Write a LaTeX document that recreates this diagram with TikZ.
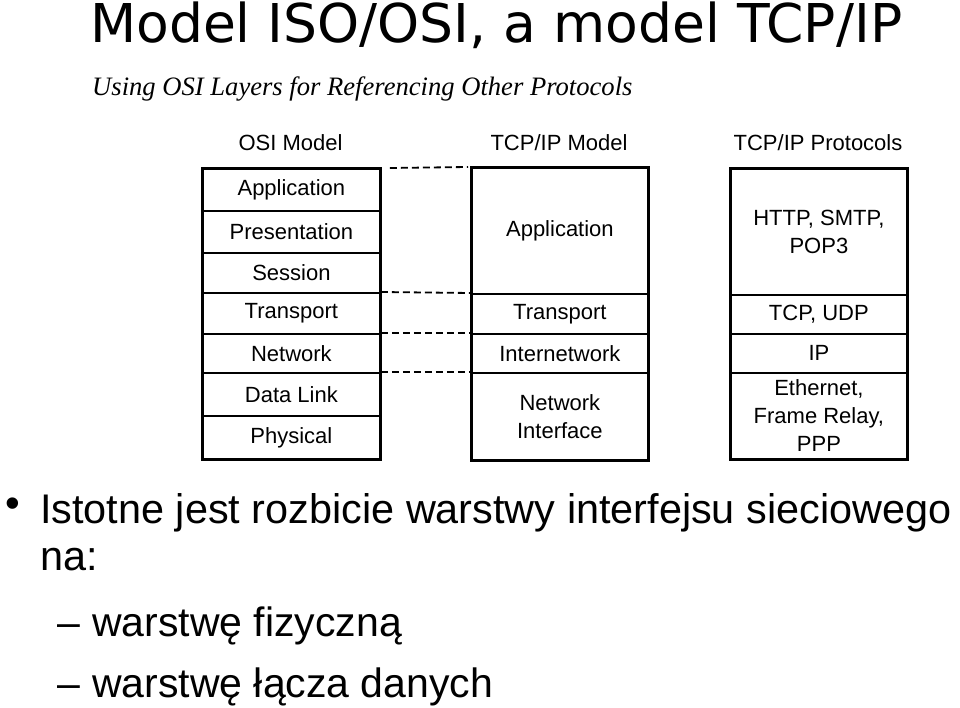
\documentclass[tikz,border=0pt]{standalone}
\usepackage{fontspec}
\setmainfont{Liberation Sans}
\newfontfamily\titlefont{DejaVu Sans}
\newfontfamily\subfont{Liberation Serif}
\begin{document}
\begin{tikzpicture}[x=1pt,y=-1pt,
  cell/.style={draw,line width=1.8pt,inner sep=0pt,anchor=north west,align=center,
    font=\fontsize{22}{28}\selectfont},
  hdr/.style={font=\fontsize{22}{26}\selectfont,anchor=base},
  link/.style={line width=1.8pt,dash pattern=on 7pt off 4pt},
  outer/.style={line width=2.6pt},
  bigtext/.style={anchor=base west,inner sep=0pt,font=\fontsize{41.4}{48}\selectfont},
  subtext/.style={anchor=base west,inner sep=0pt,font=\fontsize{41}{48}\selectfont}]
\useasboundingbox (0,0) rectangle (960,708);
% title
\node[anchor=base west,inner sep=0pt,font=\titlefont\fontsize{53.5}{60}\selectfont] (title) at (90,43) {Model ISO/OSI, a model TCP/IP};
\node[anchor=base west,inner sep=0pt,font=\subfont\itshape\fontsize{26.6}{30}\selectfont] (subtitle) at (92,96) {Using OSI Layers for Referencing Other Protocols};
% headers
\node[hdr] (hosi) at (290.5,151) {OSI Model};
\node[hdr] (htcp) at (559,151) {TCP/IP Model};
\node[hdr] (hprot) at (818,151) {TCP/IP Protocols};
% OSI column
\node[cell,minimum width=177pt,minimum height=42pt] (o1) at (202,168) {Application};
\node[cell,minimum width=177pt,minimum height=42pt] (o2) at (202,210) {Presentation};
\node[cell,minimum width=177pt,minimum height=40pt] (o3) at (202,252) {Session};
\node[cell,minimum width=177pt,minimum height=41pt] (o4) at (202,292) {Transport};
\node[cell,minimum width=177pt,minimum height=39pt] (o5) at (202,333) {Network};
\node[cell,minimum width=177pt,minimum height=43pt] (o6) at (202,372) {Data Link};
\node[cell,minimum width=177pt,minimum height=43pt] (o7) at (202,415) {Physical};
\draw[outer] (o1.north west) rectangle (o7.south east);
% TCP/IP model column
\node[cell,minimum width=176pt,minimum height=126pt] (t1) at (471,167) {Application};
\node[cell,minimum width=176pt,minimum height=40pt] (t2) at (471,293) {Transport};
\node[cell,minimum width=176pt,minimum height=39pt] (t3) at (471,333) {Internetwork};
\node[cell,minimum width=176pt,minimum height=87pt] (t4) at (471,372) {Network\\Interface};
\draw[outer] (t1.north west) rectangle (t4.south east);
% Protocols column
\node[cell,minimum width=176pt,minimum height=126pt] (p1) at (730,168) {HTTP, SMTP,\\POP3};
\node[cell,minimum width=176pt,minimum height=39pt] (p2) at (730,294) {TCP, UDP};
\node[cell,minimum width=176pt,minimum height=39pt] (p3) at (730,333) {IP};
\node[cell,minimum width=176pt,minimum height=86pt] (p4) at (730,372) {Ethernet,\\Frame Relay,\\PPP};
\draw[outer] (p1.north west) rectangle (p4.south east);
% dashed links
\draw[link] ([xshift=9pt]o1.north east) -- ([xshift=-3pt]t1.north west);
\draw[link] (o4.north east) -- (t2.north west);
\draw[link] (o5.north east) -- (t3.north west);
\draw[link] (o6.north east) -- (t4.north west);
% bullets
\node[anchor=center,inner sep=0pt,font=\fontsize{42}{48}\selectfont] (b1) at (13,508) {•};
\node[bigtext] (l1) at (40,523) {Istotne jest rozbicie warstwy interfejsu sieciowego};
\node[bigtext] (l2) at (40,570) {na:};
\node[subtext] (d1) at (57,636) {–};
\node[subtext] (s1) at (92,636) {warstwę fizyczną};
\node[subtext] (d2) at (57,697) {–};
\node[subtext] (s2) at (92,697) {warstwę łącza danych};
\end{tikzpicture}
\end{document}
